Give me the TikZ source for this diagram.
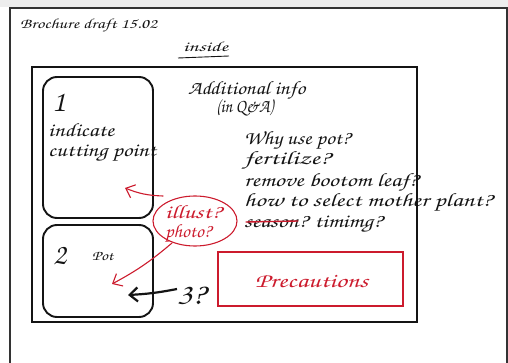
\documentclass[tikz,border=0pt]{standalone}
\usepackage[T1]{fontenc}
\usepackage{graphicx}
\usetikzlibrary{arrows.meta}
\definecolor{ink}{HTML}{141414}
\definecolor{redink}{HTML}{CC1B2D}
\newcommand{\script}{\fontfamily{pzc}\fontseries{mb}\fontshape{it}\selectfont}
% stretch a line of writing to a given width, keeping its height
\newcommand{\fitto}[2]{\resizebox{#1pt}{\height}{#2}}
\begin{document}
\begin{tikzpicture}[x=1pt,y=-1pt,
  hand/.style={inner sep=0pt, anchor=base west, text=ink,
    font=\fontsize{19}{21}\selectfont\script},
  small/.style={hand, font=\fontsize{14}{16}\selectfont\script},
  big/.style={hand, font=\fontsize{30}{32}\selectfont\script},
  redtext/.style={hand, text=redink},
  frame/.style={draw=ink, line width=1.6pt},
  card/.style={draw=ink, line width=1.9pt, rounded corners=14pt},
  redline/.style={draw=redink, line width=1.1pt, line cap=round},
  barb/.style={-{Straight Barb[length=8pt,width=14pt]}}]
\useasboundingbox (0,0) rectangle (508,363);
% page edge
\fill[black!7] (0,0) rectangle (508,7);
\draw[line width=1.5pt, black!80] (10,363) -- (10,8) -- (507,8) -- (507,363);

% heading
\node[small] (title) at (20,29) {\fitto{137}{Brochure draft 15.02}};
\node[small] (inside) at (183,52) {\fitto{45}{inside}};
\draw[ink, line width=0.9pt] (178,58) -- (229,56);

% inner spread
\draw[frame] (32,67) rectangle (417,322);

% panel 1
\draw[card] (43,77) rectangle (153,218);
\node[big] (one) at (52,112) {1};
\node[hand] (ind) at (48,137) {\fitto{66}{indicate}};
\node[hand] (cut) at (48,157) {\fitto{108}{cutting point}};

% panel 2
\draw[card] (43,225) rectangle (153,317);
\node[big] (two) at (53,264) {2};
\node[small] (pot) at (92,260) {\fitto{21}{Pot}};

% Q&A column
\node[hand] (add) at (188,95) {\fitto{117}{Additional info}};
\node[hand] (qa) at (216,113) {\fitto{57}{(in Q\&A)}};
\node[hand] (q1) at (244,145) {\fitto{106}{Why use pot?}};
\node[hand] (q2) at (244,165) {\fitto{86}{fertilize?}};
\node[hand] (q3) at (244,187) {\fitto{174}{remove bootom leaf?}};
\node[hand] (q4) at (244,207) {\fitto{248}{how to select mother plant?}};
\node[hand] (q5) at (244,227) {\fitto{138}{season? timimg?}};
\draw[redline, line width=1.4pt] (246,222) -- (298,221);

% illustration note
\draw[redline] (195,221) ellipse [x radius=42, y radius=25];
\node[redtext] (ill) at (165,219) {\fitto{56}{illust?}};
\node[redtext] (pho) at (165,238) {\fitto{46}{photo?}};
\coordinate (t1) at (125,188);
\coordinate (t2) at (112,284);
\draw[redline, barb] (163,196) to[bend left=10] (t1);
\draw[redline, barb] (172,243) to[bend left=6] (t2);

% item 3
\node[big] (three) at (177,304) {\fitto{28}{3?}};
\coordinate (t3) at (128,295);
\draw[ink, line width=2.2pt, barb] (three.west) ++(0,-6) to[bend left=4] (t3);

% precautions
\draw[redline] (218,252) rectangle (403,306);
\node[redtext, font=\fontsize{20}{22}\selectfont\script] (prec) at (255,287) {\fitto{113}{Precautions}};
\end{tikzpicture}
\end{document}
